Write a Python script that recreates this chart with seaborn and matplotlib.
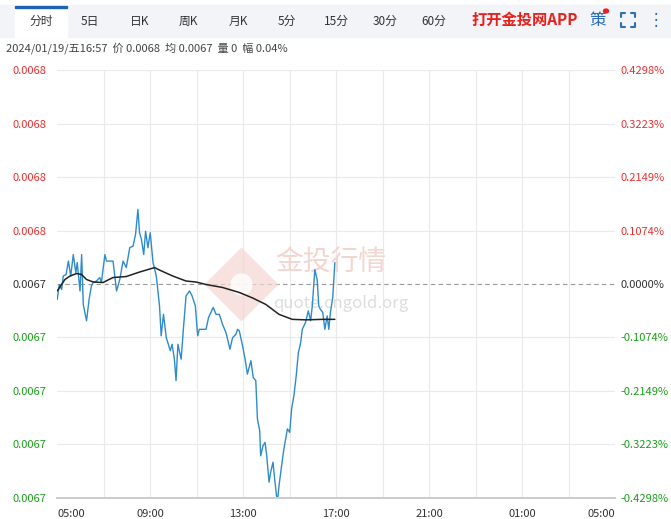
import matplotlib.pyplot as plt
import seaborn as sns
import pandas as pd
from matplotlib.patches import Rectangle
from matplotlib.lines import Line2D

# 时间（小时，从 05:00 起）与涨跌幅（%）
price_hours = [5.01, 5.10, 5.20, 5.27, 5.39, 5.49, 5.59, 5.70, 5.81, 5.87, 5.99, 6.06, 6.13, 6.27, 6.38,
               6.48, 6.56, 6.70, 6.84, 6.91, 7.06, 7.13, 7.41, 7.56, 7.70, 7.84, 7.98, 8.13, 8.27, 8.38,
               8.48, 8.55, 8.63, 8.73, 8.81, 8.91, 9.01, 9.13, 9.27, 9.41, 9.48, 9.58, 9.70, 9.77, 9.87,
               9.95, 10.05, 10.12, 10.20, 10.34, 10.44, 10.55, 10.70, 10.81, 10.95, 11.05, 11.12, 11.41,
               11.52, 11.62, 11.72, 11.84, 11.98, 12.12, 12.27, 12.44, 12.55, 12.69, 12.77, 12.84, 12.98,
               13.09, 13.19, 13.34, 13.44, 13.55, 13.62, 13.72, 13.76, 13.86, 13.95, 14.02, 14.12, 14.19,
               14.29, 14.36, 14.44, 14.49, 14.55, 14.66, 14.76, 14.91, 15.01, 15.09, 15.19, 15.29, 15.38,
               15.48, 15.55, 15.69, 15.81, 15.91, 15.98, 16.09, 16.19, 16.26, 16.33, 16.43, 16.52, 16.62,
               16.69, 16.76, 16.86, 16.95]
price_pct = [-0.031, -0.001, -0.011, 0.016, 0.019, 0.046, 0.016, 0.059, 0.023, 0.043, -0.014, 0.059, -0.041,
             -0.074, -0.031, -0.004, 0.003, 0.006, 0.013, 0.003, 0.059, 0.046, 0.046, -0.014, 0.009, 0.046,
             0.033, 0.073, 0.076, 0.100, 0.150, 0.103, 0.090, 0.059, 0.106, 0.073, 0.103, 0.043, 0.016,
             -0.044, -0.104, -0.061, -0.108, -0.118, -0.134, -0.121, -0.151, -0.194, -0.121, -0.151, -0.088,
             -0.024, -0.014, -0.024, -0.044, -0.104, -0.091, -0.091, -0.067, -0.057, -0.047, -0.061, -0.061,
             -0.081, -0.098, -0.131, -0.108, -0.101, -0.091, -0.094, -0.124, -0.151, -0.181, -0.154, -0.188,
             -0.194, -0.271, -0.295, -0.345, -0.325, -0.318, -0.345, -0.398, -0.378, -0.358, -0.391, -0.425,
             -0.432, -0.405, -0.365, -0.331, -0.291, -0.298, -0.251, -0.224, -0.184, -0.138, -0.118, -0.091,
             -0.077, -0.054, -0.074, -0.044, 0.029, 0.009, -0.044, -0.051, -0.057, -0.091, -0.064, -0.091,
             -0.057, -0.027, 0.043]

avg_hours = [5.01, 5.34, 5.56, 5.84, 6.06, 6.27, 6.56, 6.98, 7.41, 7.98, 8.55, 9.20, 9.41, 9.98, 10.55,
             10.98, 11.41, 12.12, 12.84, 13.41, 13.98, 14.55, 15.12, 15.69, 16.41, 16.95]
avg_pct = [-0.014, 0.009, 0.016, 0.021, 0.019, 0.009, 0.004, 0.003, 0.013, 0.015, 0.024, 0.033, 0.028,
           0.016, 0.006, 0.004, -0.001, -0.007, -0.017, -0.028, -0.041, -0.061, -0.071, -0.072, -0.071, -0.071]

pct_levels = [0.4298, 0.3223, 0.2149, 0.1074, 0.0, -0.1074, -0.2149, -0.3223, -0.4298]
price_labels = ["0.0068", "0.0068", "0.0068", "0.0068", "0.0067", "0.0067", "0.0067", "0.0067", "0.0067"]
x_tick_labels = ["05:00", "09:00", "13:00", "17:00", "21:00", "01:00", "05:00"]
tabs = ["分时", "5日", "日K", "周K", "月K", "5分", "15分", "30分", "60分"]

RED, GREEN, BLUE = "#e8312f", "#1a9e1a", "#2e8bcc"

sns.set_theme(style="white")
plt.rcParams["font.family"] = ["Noto Sans CJK SC", "DejaVu Sans"]

fig = plt.figure(figsize=(6.71, 5.19), dpi=100)
ax = fig.add_axes([57 / 671, 21 / 519, 558 / 671, 428 / 519])

df_p = pd.DataFrame({"h": price_hours, "p": price_pct})
df_a = pd.DataFrame({"h": avg_hours, "p": avg_pct})
sns.lineplot(data=df_p, x="h", y="p", ax=ax, color=BLUE, linewidth=1.0)
sns.lineplot(data=df_a, x="h", y="p", ax=ax, color="#222222", linewidth=1.1)

ax.set_xlim(5, 29)
ax.set_ylim(-0.4298, 0.4298)
for lv in pct_levels:
    if lv == 0:
        ax.axhline(0, color="#999999", lw=0.8, ls=(0, (4, 3)), zorder=0)
    else:
        ax.axhline(lv, color="#eaeaea", lw=0.8, zorder=0)
for h in range(7, 29, 2):
    ax.axvline(h, color="#eaeaea", lw=0.8, zorder=0)

ax.set_yticks(pct_levels)
ax.set_yticklabels(price_labels, fontsize=8)
for lbl, lv in zip(ax.get_yticklabels(), pct_levels):
    lbl.set_color(RED if lv > 0 else (GREEN if lv < 0 else "#333333"))
ax2 = ax.twinx()
ax2.set_ylim(ax.get_ylim())
ax2.set_yticks(pct_levels)
ax2.set_yticklabels([f"{lv:.4f}%" for lv in pct_levels], fontsize=8)
for lbl, lv in zip(ax2.get_yticklabels(), pct_levels):
    lbl.set_color(RED if lv > 0 else (GREEN if lv < 0 else "#333333"))

ax.set_xticks([5, 9, 13, 17, 21, 25, 29])
ax.set_xticklabels(x_tick_labels, fontsize=8, color="#333333")
ax.get_xticklabels()[0].set_ha("left")
ax.get_xticklabels()[-1].set_ha("right")
ax.set_xlabel("")
ax.set_ylabel("")
ax.tick_params(length=0, pad=8)
ax2.tick_params(length=0, pad=4)
for a in (ax, ax2):
    for s in a.spines.values():
        s.set_visible(False)
    a.spines["bottom"].set_visible(True)
    a.spines["bottom"].set_color("#cccccc")

# 水印
ax.plot([12.9], [0.0], marker="D", markersize=38, color="#f5d6d2", alpha=0.7, zorder=0, mec="none")
ax.plot([12.9], [0.0], marker="o", markersize=16, color="white", alpha=0.8, zorder=0, mec="none")
ax.text(14.4, 0.045, "金投行情", fontsize=20, color="#f3d5d0", ha="left", va="center", zorder=0)
ax.text(14.3, -0.04, "quote.cngold.org", fontsize=12, color="#dddddd", ha="left", va="center", zorder=0)

# 顶部标签栏
fig.patches.append(Rectangle((0, 1 - 37 / 519), 1, 32 / 519, transform=fig.transFigure,
                             color="#f2f4f8", zorder=0))
fig.patches.append(Rectangle((15 / 671, 1 - 37 / 519), 52 / 671, 32 / 519, transform=fig.transFigure,
                             color="white", zorder=1))
fig.patches.append(Rectangle((15 / 671, 1 - 8 / 519), 52 / 671, 2 / 519, transform=fig.transFigure,
                             color="#1e63b0", zorder=2))
tab_x = [41, 90, 140, 188, 238, 287, 336, 385, 434]
for t, x in zip(tabs, tab_x):
    fig.text(x / 671, 1 - 21 / 519, t, fontsize=8.5, color="#333333", ha="center", va="center")
fig.text(525 / 671, 1 - 20 / 519, "打开金投网APP", fontsize=11, color="#e8211c", fontweight="bold",
         ha="center", va="center")
fig.text(598 / 671, 1 - 20 / 519, "策", fontsize=12, color="#2e6db8", ha="center", va="center")
fig.patches.append(plt.Circle((606 / 671, 1 - 11 / 519), 2.5 / 671, transform=fig.transFigure,
                              color="#e8211c"))
# 全屏图标（四角）
cx, cy, r, c = 628, 20, 7, 4
for sx in (-1, 1):
    for sy in (-1, 1):
        xs = [cx + sx * r, cx + sx * r, cx + sx * (r - c)]
        ys = [cy + sy * (r - c), cy + sy * r, cy + sy * r]
        fig.lines.append(Line2D([x / 671 for x in xs], [1 - y / 519 for y in ys],
                                transform=fig.transFigure, color="#2e6db8", lw=1.5))
fig.text(656 / 671, 1 - 20 / 519, "⋮", fontsize=12, color="#2e6db8", ha="center", va="center",
         family=["DejaVu Sans"])
fig.text(6 / 671, 1 - 48 / 519, "2024/01/19/五16:57  价 0.0068  均 0.0067  量 0  幅 0.04%",
         fontsize=8, color="#444444", ha="left", va="center")

fig.savefig("out.png", dpi=100)
